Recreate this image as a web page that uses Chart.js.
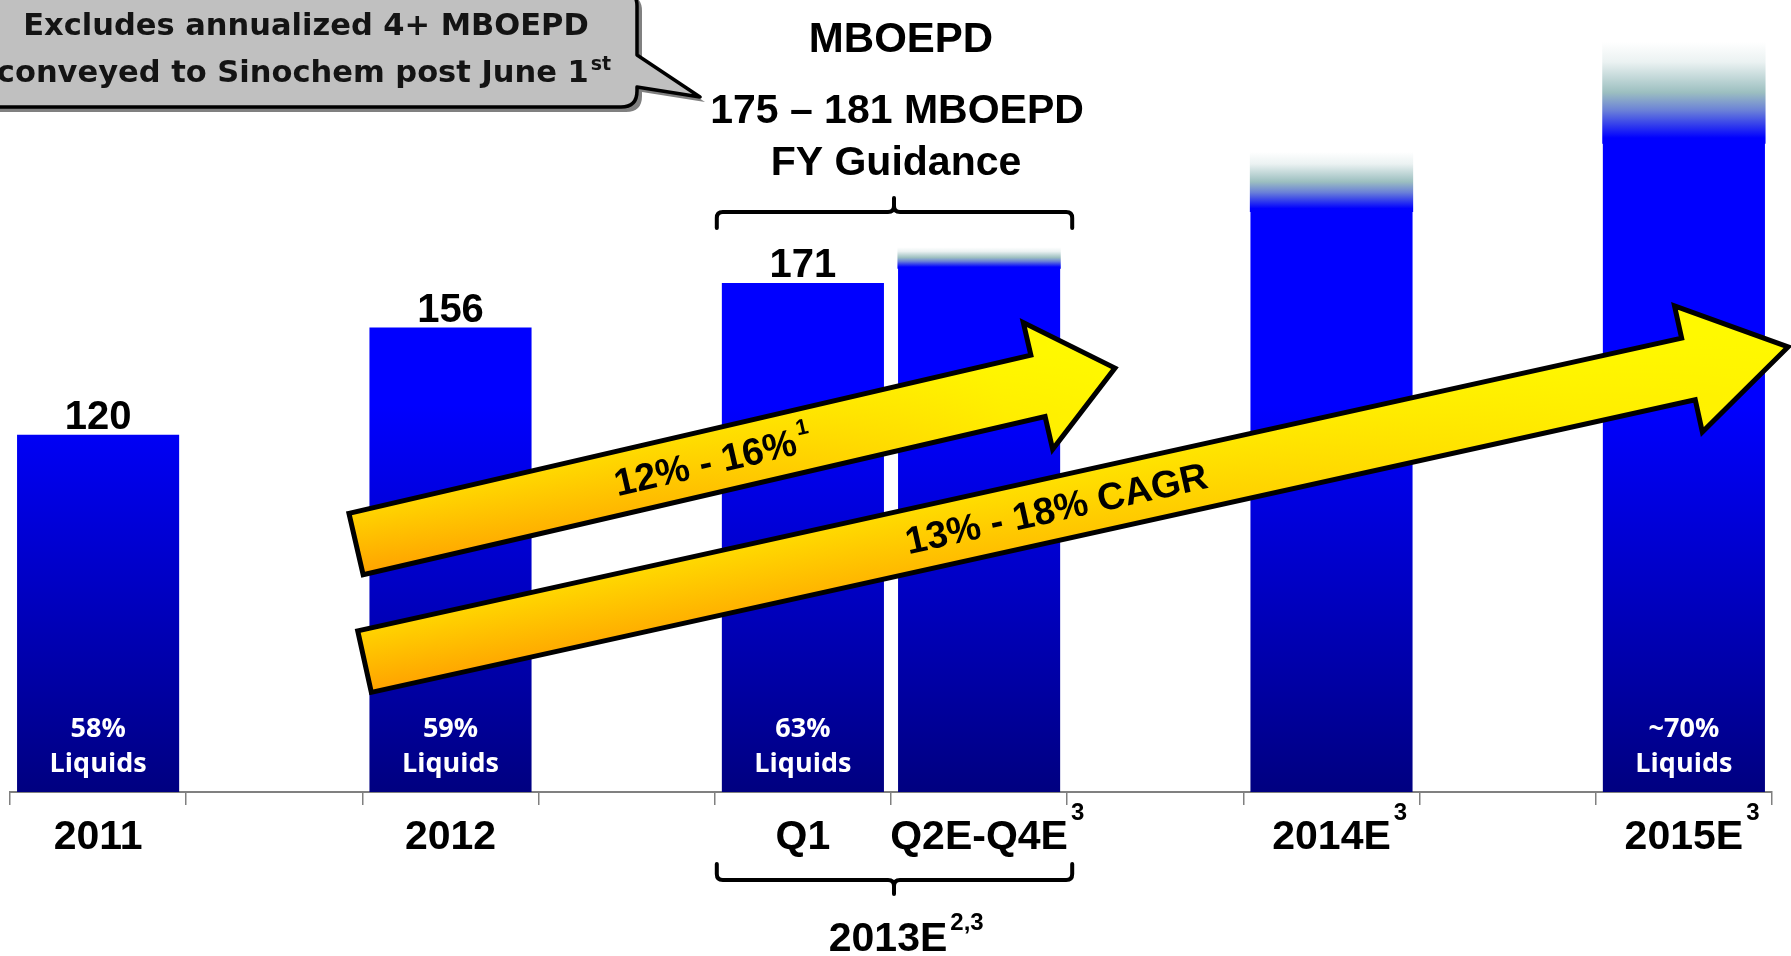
<!DOCTYPE html>
<html>
<head>
<meta charset="utf-8">
<title>MBOEPD</title>
<script src="https://cdn.jsdelivr.net/npm/chart.js@4.4.0/dist/chart.umd.min.js"></script>
<style>
  html, body { margin: 0; padding: 0; background: #fff; }
  #wrap { width: 1791px; height: 956px; position: relative; overflow: hidden; }
</style>
</head>
<body>
<div id="wrap"><canvas id="prodChart" width="1791" height="956"></canvas></div>
<script>
// x axis slots (empty strings are the gaps between groups)
const categories = ['2011', '', '2012', '', 'Q1', 'Q2E-Q4E', '', '2014E', '', '2015E'];
const categorySup = ['', '', '', '', '', '3', '', '3', '', '3'];
// production, MBOEPD (solid part of the bar)
const baseValues = [120, null, 156, null, 171, 176, null, 195, null, 218];
// faded top of the estimate bars (high end minus low end)
const rangeValues = [null, null, null, null, null, 7, null, 20, null, 34];
const valueLabels = ['120', '', '156', '', '171', '', '', '', '', ''];
const liquidsShare = ['58%', '', '59%', '', '63%', '', '', '', '', '~70%'];

const BOLD = '"Liberation Sans", Arial, sans-serif';
const CALLOUT_FONT = '"DejaVu Sans", Verdana, sans-serif';

// growth arrows, ends given as [category index, MBOEPD]
const growthArrows = [
  { from: [1.464, 83.3], to: [5.771, 142.4], thickness: 63, headWidth: 130, headLength: 79,
    text: '12% - 16%', sup: '1', at: 0.47 },
  { from: [1.512, 43.8], to: [9.591, 149.5], thickness: 63, headWidth: 129, headLength: 102,
    text: '13% - 18% CAGR', sup: '', at: 0.486 }
];

function baseFill(context) {
  const { ctx, chartArea, scales } = context.chart;
  if (!chartArea) return '#0000FF';
  const g = ctx.createLinearGradient(0, scales.y.getPixelForValue(130), 0, scales.y.getPixelForValue(0));
  g.addColorStop(0, '#0000FF');
  g.addColorStop(1, '#000080');
  return g;
}

function rangeFill(context) {
  const { ctx, chartArea, scales } = context.chart;
  const i = context.dataIndex;
  if (!chartArea || rangeValues[i] == null) return 'rgba(0,0,0,0)';
  const low = scales.y.getPixelForValue(baseValues[i]);
  const high = scales.y.getPixelForValue(baseValues[i] + rangeValues[i]);
  const g = ctx.createLinearGradient(0, high, 0, low);
  g.addColorStop(0, '#FFFFFF');
  g.addColorStop(0.2, '#EBF2F2');
  g.addColorStop(0.5, '#9CBFC0');
  g.addColorStop(0.68, '#6A80D8');
  g.addColorStop(0.95, '#0000FF');
  g.addColorStop(1, '#0000FF');
  return g;
}

function textWithSup(ctx, main, sup, cx, baseY, size, supSize, supRise, center) {
  ctx.font = 'bold ' + size + 'px ' + BOLD;
  const w = ctx.measureText(main).width;
  ctx.font = 'bold ' + supSize + 'px ' + BOLD;
  const sw = sup ? ctx.measureText(sup).width + 3 : 0;
  const left = center === 'all' ? cx - (w + sw) / 2 : cx - w / 2;
  ctx.textAlign = 'left';
  ctx.font = 'bold ' + size + 'px ' + BOLD;
  ctx.fillText(main, left, baseY);
  if (sup) {
    ctx.font = 'bold ' + supSize + 'px ' + BOLD;
    ctx.fillText(sup, left + w + 3, baseY - supRise);
  }
}

function drawBrace(ctx, left, right, mid, y, dir) {
  // dir = 1: ends hang down (top brace), dir = -1: ends point up (bottom brace)
  const leg = 16 * dir, r = 6;
  ctx.beginPath();
  ctx.moveTo(left, y + leg);
  ctx.lineTo(left, y + r * dir);
  ctx.quadraticCurveTo(left, y, left + r, y);
  ctx.lineTo(mid - r, y);
  ctx.quadraticCurveTo(mid, y, mid, y - r * dir);
  ctx.lineTo(mid, y - 14 * dir);
  ctx.moveTo(mid, y - r * dir);
  ctx.quadraticCurveTo(mid, y, mid + r, y);
  ctx.lineTo(right - r, y);
  ctx.quadraticCurveTo(right, y, right, y + r * dir);
  ctx.lineTo(right, y + leg);
  ctx.stroke();
}

function drawArrow(ctx, x0, y0, x1, y1, a) {
  const dx = x1 - x0, dy = y1 - y0;
  const len = Math.hypot(dx, dy);
  const ux = dx / len, uy = dy / len;
  const px = -uy, py = ux;
  const h = a.thickness / 2, hw = a.headWidth / 2, hl = a.headLength;
  const pt = (s, t) => [x0 + ux * s + px * t, y0 + uy * s + py * t];
  const pts = [pt(0, -h), pt(len - hl, -h), pt(len - hl, -hw), pt(len, 0),
               pt(len - hl, hw), pt(len - hl, h), pt(0, h)];
  const shape = () => {
    ctx.beginPath();
    pts.forEach((p, k) => k ? ctx.lineTo(p[0], p[1]) : ctx.moveTo(p[0], p[1]));
    ctx.closePath();
  };
  // across the shaft: orange underside to gold top
  const b0 = pt(0, h), b1 = pt(0, -h);
  const across = ctx.createLinearGradient(b0[0], b0[1], b1[0], b1[1]);
  across.addColorStop(0, '#FFA200');
  across.addColorStop(1, '#FFD400');
  shape();
  ctx.fillStyle = across;
  ctx.fill();
  // along the shaft: turning yellow toward the head
  const a0 = pt(0, 0), a1 = pt(len, 0);
  const along = ctx.createLinearGradient(a0[0], a0[1], a1[0], a1[1]);
  along.addColorStop(0, 'rgba(255,255,0,0)');
  along.addColorStop(0.35, 'rgba(255,240,0,0.25)');
  along.addColorStop(0.85, 'rgba(255,255,0,0.8)');
  along.addColorStop(1, 'rgba(255,255,0,0.9)');
  shape();
  ctx.fillStyle = along;
  ctx.fill();
  ctx.lineWidth = 5;
  ctx.lineJoin = 'miter';
  ctx.strokeStyle = '#000';
  ctx.stroke();
  // label along the shaft
  const c = pt(len * a.at, 0);
  ctx.save();
  ctx.translate(c[0], c[1]);
  ctx.rotate(Math.atan2(dy, dx));
  ctx.fillStyle = '#000';
  ctx.textBaseline = 'middle';
  textWithSup(ctx, a.text, a.sup, 0, 2, 38, 22, 14, 'all');
  ctx.restore();
}

function drawCallout(ctx) {
  const left = -40, top = -10, right = 637, bottom = 107, r = 16;
  const shape = () => {
    ctx.beginPath();
    ctx.moveTo(left, top);
    ctx.lineTo(right - r, top);
    ctx.quadraticCurveTo(right, top, right, top + r);
    ctx.lineTo(right, 55);
    ctx.lineTo(700, 97);
    ctx.lineTo(right, 87);
    ctx.lineTo(right, bottom - r);
    ctx.quadraticCurveTo(right, bottom, right - r, bottom);
    ctx.lineTo(left, bottom);
    ctx.closePath();
  };
  ctx.save();
  ctx.translate(5, 5);
  shape();
  ctx.fillStyle = '#808080';
  ctx.fill();
  ctx.restore();
  shape();
  ctx.fillStyle = '#C0C0C0';
  ctx.fill();
  ctx.lineWidth = 3.5;
  ctx.lineJoin = 'round';
  ctx.strokeStyle = '#000';
  ctx.stroke();

  ctx.fillStyle = '#141414';
  ctx.textBaseline = 'alphabetic';
  ctx.textAlign = 'center';
  ctx.font = 'bold 30.5px ' + CALLOUT_FONT;
  ctx.fillText('Excludes annualized 4+ MBOEPD', 306, 35);
  const line2 = 'conveyed to Sinochem post June 1';
  const w = ctx.measureText(line2).width;
  ctx.font = 'bold 19px ' + CALLOUT_FONT;
  const sw = ctx.measureText('st').width + 2;
  const x0 = 304 - (w + sw) / 2;
  ctx.textAlign = 'left';
  ctx.font = 'bold 30.5px ' + CALLOUT_FONT;
  ctx.fillText(line2, x0, 82);
  ctx.font = 'bold 19px ' + CALLOUT_FONT;
  ctx.fillText('st', x0 + w + 2, 70);
}

const annotations = {
  id: 'annotations',
  afterDraw(chart) {
    const { ctx, scales: { x, y } } = chart;
    ctx.save();
    ctx.textBaseline = 'alphabetic';

    // values above bars
    ctx.fillStyle = '#000';
    ctx.textAlign = 'center';
    ctx.font = 'bold 40px ' + BOLD;
    valueLabels.forEach((t, i) => {
      if (t) ctx.fillText(t, x.getPixelForValue(i), y.getPixelForValue(baseValues[i]) - 6);
    });

    // liquids share inside bars
    ctx.fillStyle = '#fff';
    ctx.font = 'bold 27px "Open Sans", sans-serif';
    liquidsShare.forEach((t, i) => {
      if (!t) return;
      const cx = x.getPixelForValue(i);
      ctx.fillText(t, cx, 737);
      ctx.fillText('Liquids', cx, 772);
    });

    // category labels
    ctx.fillStyle = '#000';
    categories.forEach((t, i) => {
      if (t) textWithSup(ctx, t, categorySup[i], x.getPixelForValue(i), 849, 41, 24, 29, 'main');
    });

    // guidance header and braces
    ctx.textAlign = 'center';
    ctx.font = 'bold 42px ' + BOLD;
    ctx.fillText('MBOEPD', 901, 52);
    ctx.font = 'bold 41px ' + BOLD;
    ctx.fillText('175 \u2013 181 MBOEPD', 897, 123);
    ctx.fillText('FY Guidance', 896, 175);

    ctx.strokeStyle = '#000';
    ctx.lineWidth = 4;
    ctx.lineCap = 'round';
    const bl = x.getPixelForValue(3.5) + 2, br = x.getPixelForValue(5.5) + 5, bm = x.getPixelForValue(4.5) + 3;
    drawBrace(ctx, bl, br, bm, 212, 1);
    drawBrace(ctx, bl, br, bm, 880, -1);
    textWithSup(ctx, '2013E', '2,3', 888, 951, 41, 24, 21, 'main');

    // growth arrows
    growthArrows.forEach(a => {
      drawArrow(ctx, x.getPixelForValue(a.from[0]), y.getPixelForValue(a.from[1]),
                x.getPixelForValue(a.to[0]), y.getPixelForValue(a.to[1]), a);
    });

    drawCallout(ctx);
    ctx.restore();
  }
};

const prodCtx = document.getElementById('prodChart').getContext('2d');
const prodChart = new Chart(prodCtx, {
  type: 'bar',
  data: {
    labels: categories,
    datasets: [
      {
        label: 'MBOEPD',
        data: baseValues,
        backgroundColor: baseFill,
        borderWidth: 0,
        barPercentage: 0.92,
        categoryPercentage: 1
      },
      {
        label: 'Estimate range',
        data: rangeValues,
        backgroundColor: rangeFill,
        borderWidth: 0,
        inflateAmount: 0.6,
        barPercentage: 0.92,
        categoryPercentage: 1
      }
    ]
  },
  options: {
    responsive: false,
    animation: false,
    devicePixelRatio: 1,
    layout: { padding: { left: 10, right: 19, top: 18, bottom: 151 } },
    plugins: { legend: { display: false }, tooltip: { enabled: false } },
    scales: {
      x: {
        stacked: true,
        offset: true,
        grid: { display: true, offset: true, drawOnChartArea: false, drawTicks: true, tickLength: 13, color: '#808080', lineWidth: 1.5 },
        border: { display: true, color: '#808080', width: 2 },
        ticks: { display: false }
      },
      y: {
        stacked: true,
        display: false,
        min: 0,
        max: 260
      }
    }
  },
  plugins: [annotations]
});
</script>
</body>
</html>
